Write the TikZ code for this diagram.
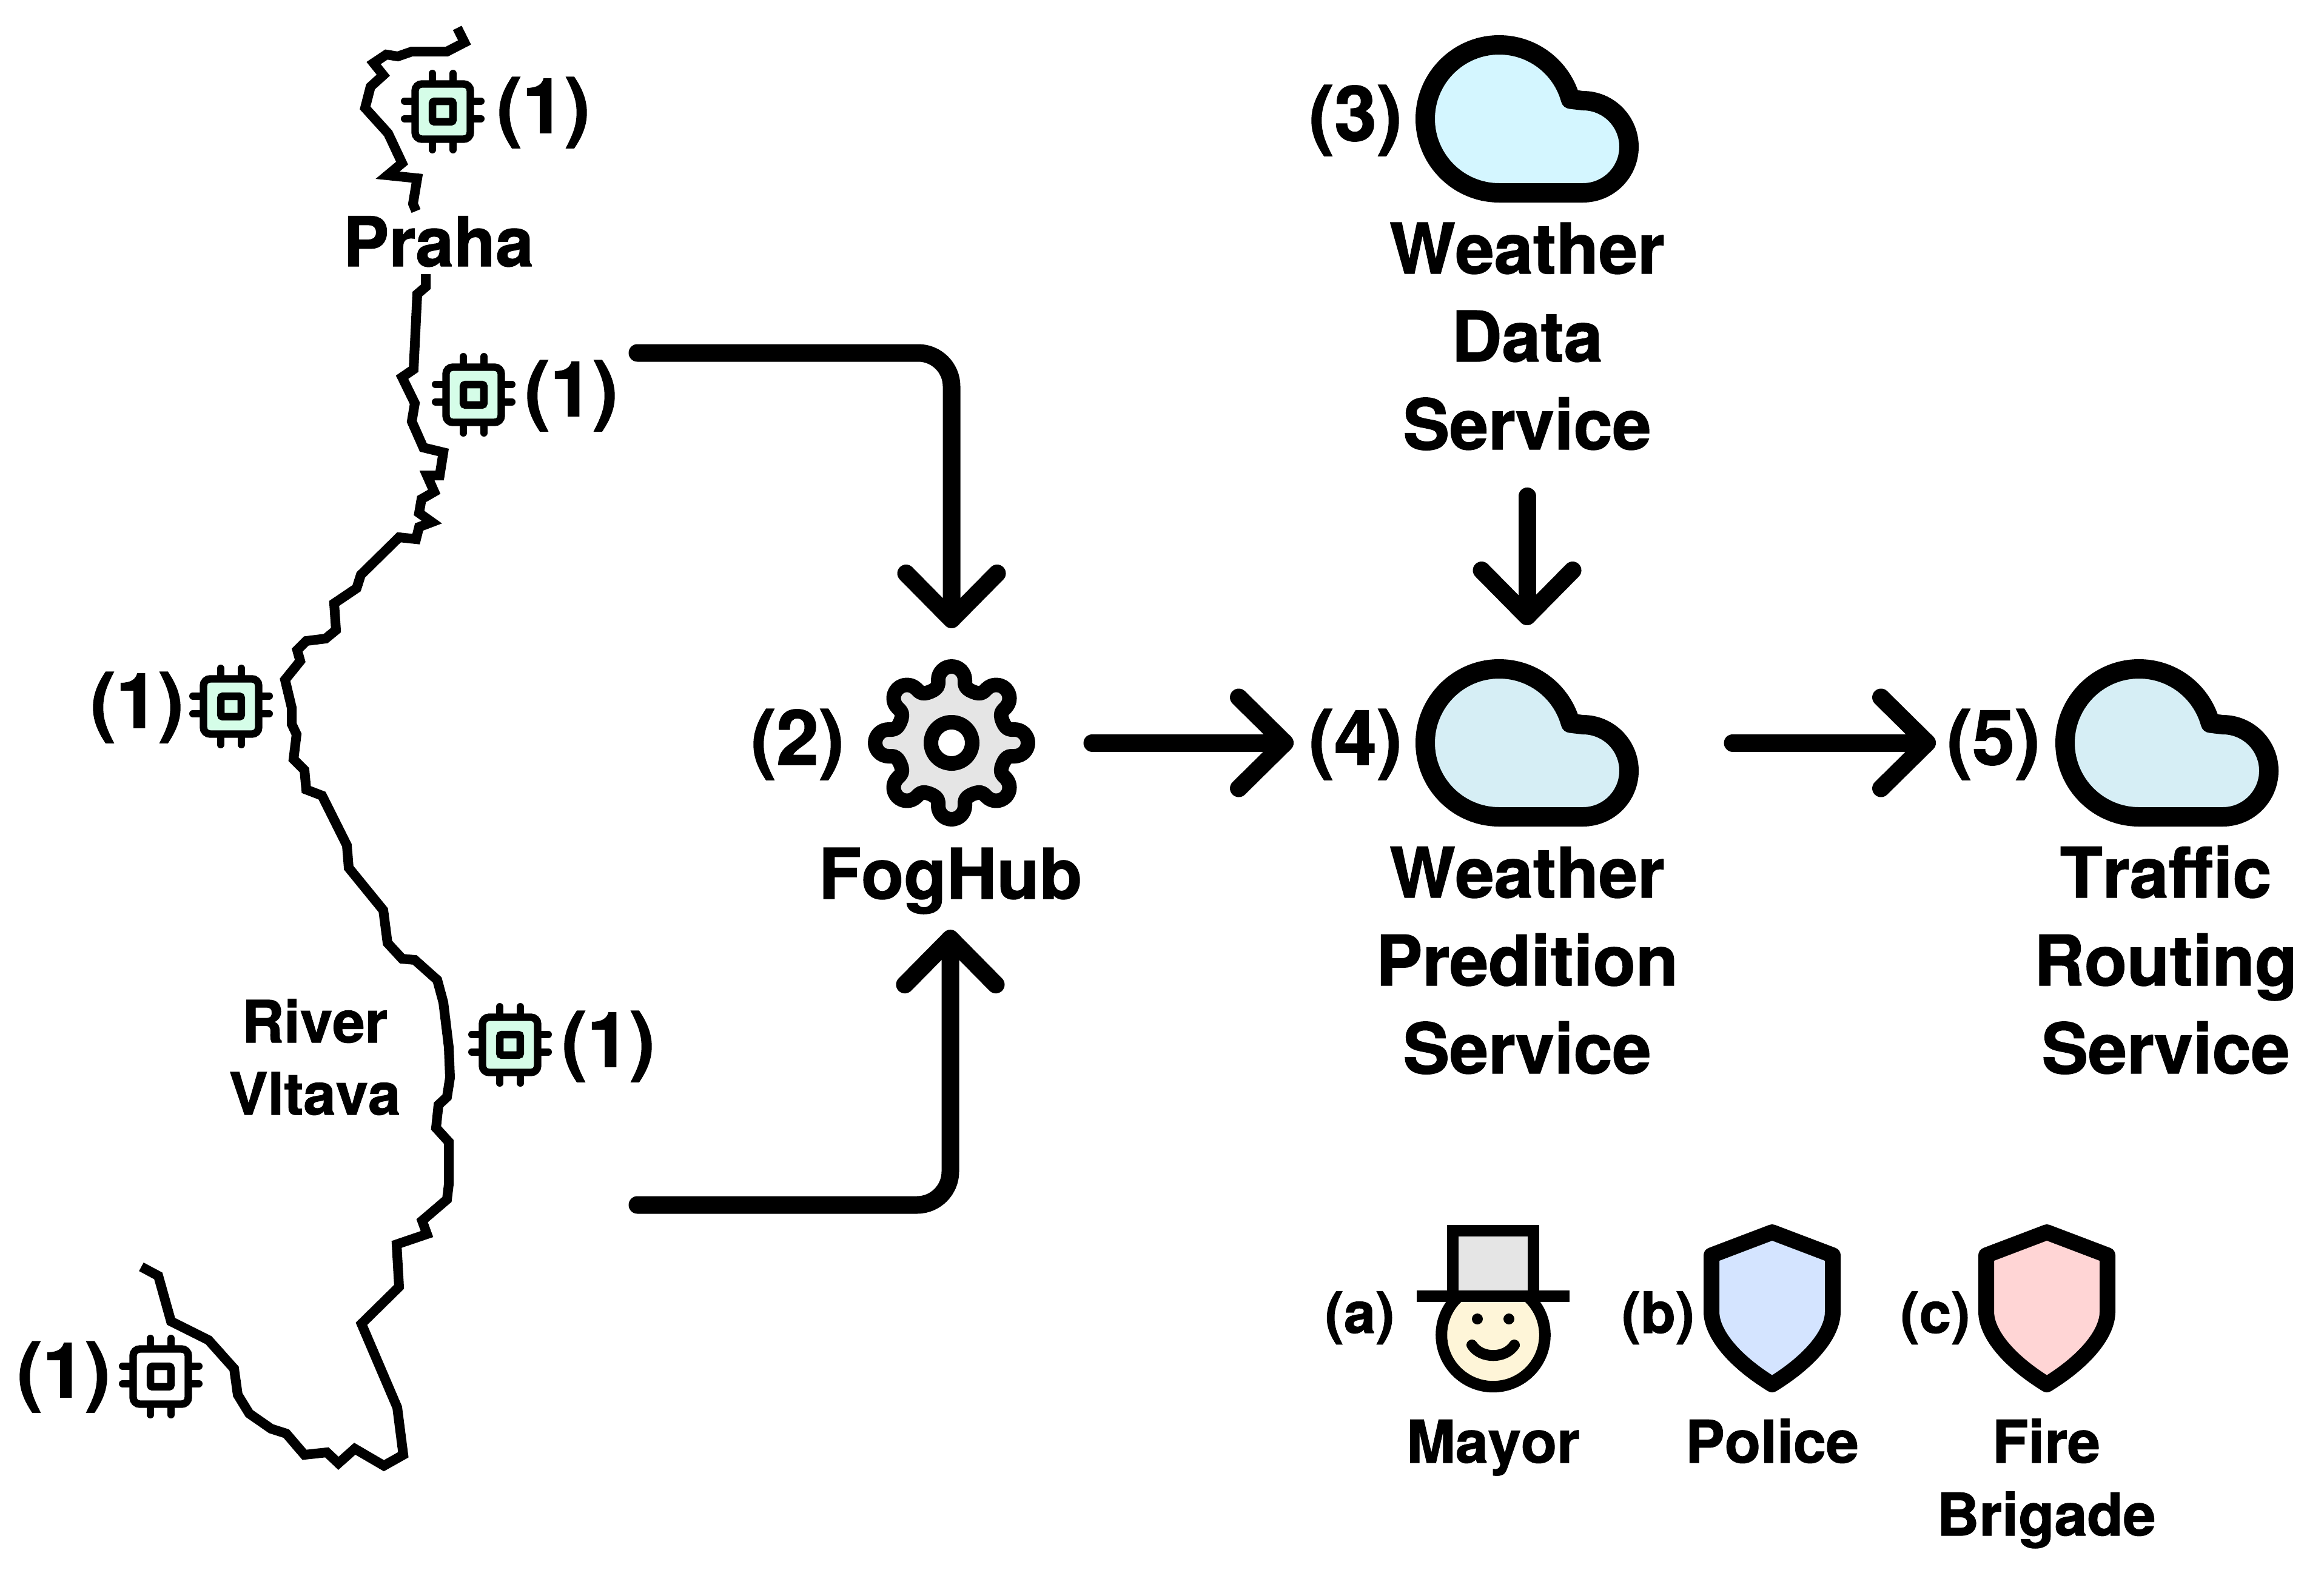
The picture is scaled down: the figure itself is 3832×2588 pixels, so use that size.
\documentclass[tikz,border=0pt]{standalone}
\usepackage{fontspec}
\setmainfont{TeX Gyre Heros}[Kerning=Off,BoldFeatures={FakeBold=1.2}]
\usetikzlibrary{arrows.meta,calc}
\definecolor{chipfill}{HTML}{D5FDE8}
\definecolor{cloudA}{HTML}{D4F6FF}
\definecolor{cloudB}{HTML}{D6EEF5}
\definecolor{greyfill}{HTML}{E5E5E5}
\definecolor{facefill}{HTML}{FEF5D8}
\definecolor{policefill}{HTML}{D4E4FF}
\definecolor{firefill}{HTML}{FFD5D5}
\tikzset{
  txt/.style={inner sep=0pt,outer sep=0pt,anchor=base,align=center,text=black},
  num/.style={txt,font=\bfseries\fontsize{126}{126}\selectfont},
  svc/.style={txt,font=\bfseries\fontsize{115}{145}\selectfont},
  sml/.style={txt,font=\bfseries\fontsize{97}{120}\selectfont},
  lett/.style={txt,font=\bfseries\fontsize{94}{94}\selectfont},
  box/.style={inner sep=0pt,outer sep=0pt,minimum width=#1},
  flow/.style={line width=29pt,line cap=round,line join=round,rounded corners=55pt,
    -{Straight Barb[round,length=76pt,width=150pt]}},
  river/.style={line width=16pt,line join=miter,miter limit=10},
  pinline/.style={line width=12pt,line cap=round},
  cloudline/.style={line width=32pt,line join=round},
  shieldline/.style={line width=26pt,line join=round},
}
\newcommand{\chipicon}[3]{%
  \begin{scope}[shift={(#1,#2)}]
    \foreach \p in {-17,17} {
      \draw[pinline] (\p,-63) -- (\p,-45);
      \draw[pinline] (\p,63) -- (\p,45);
    }
    \foreach \p in {-17.3,11.7} {
      \draw[pinline] (-63,\p) -- (-45,\p);
      \draw[pinline] (63,\p) -- (45,\p);
    }
    \draw[line width=12.4pt,fill=#3,rounded corners=11pt] (-45.5,-45.5) rectangle (45.5,45.5);
    \draw[line width=12.5pt,fill=#3,rounded corners=3pt] (-16.8,-16.8) rectangle (16.8,16.8);
  \end{scope}}
\newcommand{\cloudicon}[3]{%
  \begin{scope}[shift={(#1,#2)}]
    \draw[cloudline,fill=#3] (-46,122) arc[start angle=90,end angle=344.6,radius=122]
      -- (92,-30) arc[start angle=-90,end angle=90,radius=76] -- cycle;
  \end{scope}}
\newcommand{\shieldicon}[2]{%
  \begin{scope}[shift={(#1,0)}]
    \draw[shieldline,fill=#2] (0,2032) -- (100,2070) -- (100,2163)
      .. controls (100,2200) and (62,2245) .. (0,2283)
      .. controls (-62,2245) and (-100,2200) .. (-100,2163)
      -- (-100,2070) -- cycle;
  \end{scope}}
\begin{document}
\begin{tikzpicture}[x=1pt,y=-1pt]
\useasboundingbox (0,0) rectangle (3832,2588);
\fill[white] (0,0) rectangle (3832,2588);

% river
\draw[river] (754,46) -- (766,70) -- (737,85) -- (679,85) -- (656,93) -- (637,90) -- (616,104) -- (632,124) -- (611,143) -- (602,178) -- (640,220) -- (663,269) -- (639,289) -- (688,294) -- (681,336) -- (686,348);
\draw[river] (702,452) -- (702,473) -- (688,485) -- (682,609) -- (663,622) -- (684,665) -- (679,695) -- (698,738) -- (731,746) -- (725,784) -- (704,784) -- (716,811) -- (695,823) -- (691,846) -- (712,861) -- (691,869) -- (686,889) -- (658,886) -- (595,948) -- (588,970) -- (551,995) -- (554,1039) -- (537,1053) -- (505,1057) -- (490,1072) -- (495,1090) -- (470,1121) -- (481,1167) -- (481,1194) -- (489,1211) -- (484,1252) -- (502,1270) -- (505,1302) -- (531,1312) -- (572,1394) -- (575,1431) -- (632,1501) -- (639,1555) -- (663,1581) -- (684,1583) -- (721,1616) -- (731,1653) -- (740,1727) -- (742,1777) -- (737,1809) -- (723,1822) -- (719,1860) -- (740,1883) -- (740,1953) -- (737,1978) -- (696,2013) -- (704,2035) -- (654,2052) -- (658,2122) -- (596,2183) -- (655,2321) -- (665,2399) -- (633,2417) -- (585,2389) -- (558,2413) -- (539,2395) -- (502,2399) -- (472,2364) -- (447,2356) -- (411,2331) -- (392,2300) -- (386,2257) -- (344,2210) -- (282,2179) -- (261,2104) -- (233,2089);
\node[txt,font=\bfseries\fontsize{113}{113}\selectfont] (praha) at (723,439) {Praha};
\node[txt,font=\bfseries\fontsize{96}{119}\selectfont] (vltava) at (519,1838) {River\\Vltava};

% sensors
\chipicon{730}{184}{chipfill}
\chipicon{781}{651}{chipfill}
\chipicon{381}{1165}{chipfill}
\chipicon{841}{1723}{chipfill}
\chipicon{265}{2270}{white}
\node[num] (n1a) at (896,219) {(1)};
\node[num] (n1b) at (942,686) {(1)};
\node[num] (n1c) at (226,1200) {(1)};
\node[num] (n1d) at (1003,1759) {(1)};
\node[num] (n1e) at (105,2304) {(1)};

% hub
\node[box=276pt,minimum height=276pt] (hub) at (1569,1225) {};
\begin{scope}[shift={(hub.center)}]
  \draw[line width=24pt,line join=round,fill=greyfill] (-22.5:91.3)
    \foreach \a in {0,45,...,315} {
      .. controls ({\a-18.2}:91.5) and ({\a-13.6}:93.7) .. ({\a-12.65}:100.4)
      -- ({\a-11.94}:106.3)
      .. controls ({\a-10.72}:118.2) and ({\a-5.51}:126.6) .. (\a:126)
      .. controls ({\a+5.51}:126.6) and ({\a+10.72}:118.2) .. ({\a+11.94}:106.3)
      -- ({\a+12.65}:100.4)
      .. controls ({\a+13.6}:93.7) and ({\a+18.2}:91.5) .. ({\a+22.5}:91.3)
    } -- cycle;
  \draw[line width=24pt,fill=white] (0,0) circle[radius=34];
\end{scope}
\node[num] (n2) at (1315,1261) {(2)};
\node[svc] (hubtxt) at (1567,1482) {FogHub};

% services
\node[box=368pt,minimum height=276pt] (wds) at (2518,196) {};
\cloudicon{2518}{196}{cloudA}
\node[num] (n3) at (2235,232) {(3)};
\node[svc] (wdstxt) at (2518,741) {Weather\\Data\\Service};

\node[box=368pt,minimum height=276pt] (wps) at (2518,1225) {};
\cloudicon{2518}{1225}{cloudB}
\node[num] (n4) at (2235,1261) {(4)};
\node[svc] (wpstxt) at (2518,1770) {Weather\\Predition\\Service};

\node[box=368pt,minimum height=276pt] (trs) at (3573,1225) {};
\cloudicon{3573}{1225}{cloudB}
\node[num] (n5) at (3287,1261) {(5)};
\node[svc] (trstxt) at (3571,1770) {Traffic\\Routing\\Service};

% connectors
\coordinate (topfeed) at (1051,582);
\coordinate (botfeed) at (1051,1987);
\draw[flow,shorten >=51pt] (topfeed) -| (hub.north);
\draw[flow,shorten >=135pt] (botfeed) -| (hubtxt.north);
\draw[flow,shorten <=76pt,shorten >=56pt] (wdstxt.south) -- (wps.north);
\draw[flow,shorten <=94pt,shorten >=25pt] (hub.east) -- (hub.east -| n4.west);
\draw[flow,shorten <=155pt,shorten >=18pt] (wps.east) -- (wps.east -| n5.west);

% actors
\node[lett] (na) at (2242,2198) {(a)};
\draw[line width=19pt,fill=facefill] (2462,2201.4) circle[radius=85.3];
\draw[line width=19pt,fill=greyfill] (2395.5,2137.5) -- (2395.5,2029) -- (2528.5,2029) -- (2528.5,2137.5);
\draw[line width=19pt] (2336,2137.5) -- (2588,2137.5);
\fill (2436,2175) circle[radius=9];
\fill (2488,2175) circle[radius=9];
\draw[line width=18pt,line cap=round] (2427,2218) .. controls (2442,2241) and (2482,2241) .. (2497,2218);
\node[sml] (mayor) at (2462,2412) {Mayor};

\node[lett] (nb) at (2734,2198) {(b)};
\shieldicon{2922}{policefill}
\node[sml] (police) at (2922,2412) {Police};

\node[lett] (nc) at (3191,2198) {(c)};
\shieldicon{3375}{firefill}
\node[sml] (fire) at (3374,2532) {Fire\\Brigade};
\end{tikzpicture}
\end{document}
